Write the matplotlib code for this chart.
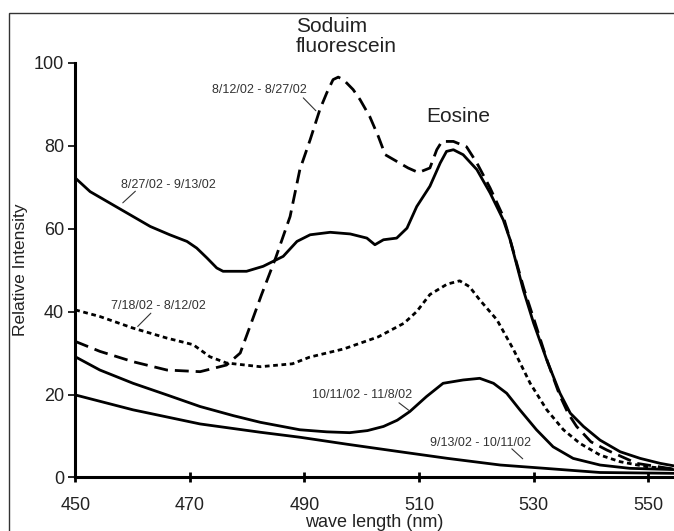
import matplotlib
matplotlib.use("Agg")
import matplotlib.pyplot as plt
from matplotlib.patches import Rectangle

plt.rcParams['font.family'] = ['Liberation Sans', 'DejaVu Sans']

# 8/27/02 - 9/13/02 (solid, upper)
x_a = [450.0, 452.6, 456.1, 459.6, 463.1, 466.5, 469.5, 471.2, 473.0, 474.7, 475.8, 479.9,
       482.8, 486.3, 488.7, 491.0, 494.5, 498.0, 500.9, 502.3, 503.8, 506.1, 507.9, 509.6,
       511.9, 513.7, 514.8, 516.0, 517.7, 520.1, 522.4, 524.7, 525.9, 528.2, 530.0, 532.3,
       534.6, 536.4, 538.7, 541.6, 545.1, 548.6, 552.1, 554.5]
y_a = [72.2, 68.9, 66.1, 63.3, 60.5, 58.5, 56.9, 55.3, 52.9, 50.5, 49.7, 49.7,
       50.9, 53.3, 56.9, 58.5, 59.1, 58.7, 57.7, 56.1, 57.3, 57.7, 60.1, 65.3,
       70.2, 75.8, 78.6, 79.0, 77.8, 74.2, 68.6, 62.1, 57.3, 45.2, 37.2, 28.3,
       20.3, 15.5, 12.3, 9.0, 6.2, 4.6, 3.4, 2.8]

# 8/12/02 - 8/27/02 (long dashes)
x_b = [450.0, 454.3, 460.1, 466.0, 471.8, 474.1, 476.4, 478.8, 480.5, 482.5, 485.0, 487.5,
       489.2, 491.0, 492.7, 493.9, 495.0, 495.9, 496.8, 498.5, 499.7, 501.4, 502.9, 504.1,
       506.1, 508.1, 509.9, 511.9, 513.1, 514.0, 516.0, 518.3, 520.1, 522.4, 524.7, 525.9,
       528.3, 530.2, 532.4, 534.5, 536.0, 537.5, 540.0, 542.8, 548.0, 554.5]
y_b = [32.8, 30.4, 27.9, 25.9, 25.5, 26.3, 27.1, 30.0, 36.4, 44.0, 53.0, 62.9,
       74.2, 81.4, 88.7, 92.7, 95.9, 96.5, 95.9, 93.5, 91.1, 87.0, 82.2, 77.8,
       76.2, 74.6, 73.5, 74.6, 79.0, 81.0, 81.0, 79.7, 75.8, 69.8, 62.9, 57.3,
       45.5, 37.5, 28.0, 20.0, 15.5, 12.3, 8.6, 6.6, 3.4, 2.0]

# 7/18/02 - 8/12/02 (short dashes)
x_c = [450.0, 454.3, 460.1, 466.0, 470.6, 473.5, 476.4, 482.3, 487.9, 490.9, 496.9, 502.9,
       507.4, 509.6, 511.9, 514.9, 517.1, 518.8, 520.6, 523.6, 526.5, 529.4, 532.3, 535.2,
       538.1, 541.6, 545.1, 549.7, 554.5]
y_c = [40.4, 38.8, 36.0, 33.6, 32.0, 29.1, 27.6, 26.7, 27.4, 29.0, 31.0, 33.9,
       37.2, 40.0, 44.1, 46.6, 47.4, 46.0, 42.8, 38.0, 30.8, 22.7, 16.3, 11.5,
       8.2, 5.4, 3.8, 2.6, 2.0]

# 10/11/02 - 11/8/02 (solid)
x_d = [450.0, 454.3, 460.1, 466.0, 471.8, 477.6, 482.3, 489.2, 493.9, 497.9, 501.0, 503.8,
       506.2, 508.4, 511.3, 514.2, 517.7, 520.6, 523.0, 525.3, 527.6, 530.5, 533.4, 536.9,
       541.6, 546.8, 554.5]
y_d = [29.1, 25.9, 22.7, 19.9, 17.1, 14.9, 13.3, 11.5, 11.0, 10.8, 11.3, 12.3,
       13.8, 15.9, 19.5, 22.7, 23.5, 23.9, 22.7, 20.3, 16.3, 11.5, 7.4, 4.6,
       3.0, 2.2, 1.9]

# 9/13/02 - 10/11/02 (solid, lowest)
x_e = [450.0, 460.1, 471.8, 482.3, 489.2, 497.5, 506.7, 515.0, 524.2, 532.0, 541.6, 554.5]
y_e = [19.9, 16.3, 12.9, 10.9, 9.7, 8.0, 6.2, 4.6, 3.0, 2.2, 1.2, 1.0]

x_ticks = [450, 470, 490, 510, 530, 550]
y_ticks = [0, 20, 40, 60, 80, 100]

# period labels: text, text centre, leader start, leader end
labels = ["8/12/02 - 8/27/02", "8/27/02 - 9/13/02", "7/18/02 - 8/12/02",
          "10/11/02 - 11/8/02", "9/13/02 - 10/11/02"]
label_xy = [(482.2, 93.3), (466.2, 70.4), (464.5, 41.3), (500.1, 19.8), (520.7, 8.3)]
leader_from = [(489.8, 91.5), (460.5, 69.0), (463.2, 39.6), (506.5, 18.0), (526.2, 6.9)]
leader_to = [(492.0, 88.4), (458.3, 66.2), (460.9, 36.4), (508.2, 16.2), (528.1, 4.5)]

fig = plt.figure(figsize=(6.74, 5.31), dpi=100)
ax = fig.add_axes([0.1116, 0.1008, 0.8884, 0.7813])

lw = 2.0
ax.plot(x_a, y_a, color='black', lw=lw, solid_joinstyle='round')
ax.plot(x_b, y_b, color='black', lw=lw, linestyle=(0, (5, 2.5)))
ax.plot(x_c, y_c, color='black', lw=lw, linestyle=(0, (1.7, 1.3)))
ax.plot(x_d, y_d, color='black', lw=lw, solid_joinstyle='round')
ax.plot(x_e, y_e, color='black', lw=lw, solid_joinstyle='round')

ax.set_xlim(450, 554.5)
ax.set_ylim(0, 100)
ax.set_xticks(x_ticks)
ax.set_yticks(y_ticks)
ax.spines['top'].set_visible(False)
ax.spines['right'].set_visible(False)
for s in ['left', 'bottom']:
    ax.spines[s].set_linewidth(2.2)
ax.tick_params(axis='x', direction='inout', length=7.5, width=2.0, pad=10, labelsize=13)
ax.tick_params(axis='y', direction='out', length=5, width=1.2, pad=3, labelsize=13)
for t in ax.get_xticklabels() + ax.get_yticklabels():
    t.set_color('#222222')

ax.set_xlabel('wave length (nm)', fontsize=13, labelpad=0, color='#222222')
ax.set_ylabel('Relative Intensity', fontsize=12.5, labelpad=4, color='#222222')

for txt, (tx, ty), p0, p1 in zip(labels, label_xy, leader_from, leader_to):
    ax.text(tx, ty, txt, fontsize=9, ha='center', va='center', color='#333333')
    ax.annotate('', xy=p1, xytext=p0,
                arrowprops=dict(arrowstyle='-', lw=0.8, color='#333333',
                                shrinkA=0, shrinkB=0))

ax.text(488.5, 111.0, 'Soduim\nfluorescein', fontsize=15, ha='left', va='top',
        linespacing=1.1, color='#222222', clip_on=False)
ax.text(511.2, 85.8, 'Eosine', fontsize=15, ha='left', va='baseline', color='#222222')

fig.patches.append(Rectangle((9 / 674, -0.05), 1.2, 1 - 12.5 / 531 + 0.05,
                             transform=fig.transFigure, fill=False,
                             edgecolor='#333333', lw=1.0, figure=fig))

fig.savefig('out.png', dpi=100)
